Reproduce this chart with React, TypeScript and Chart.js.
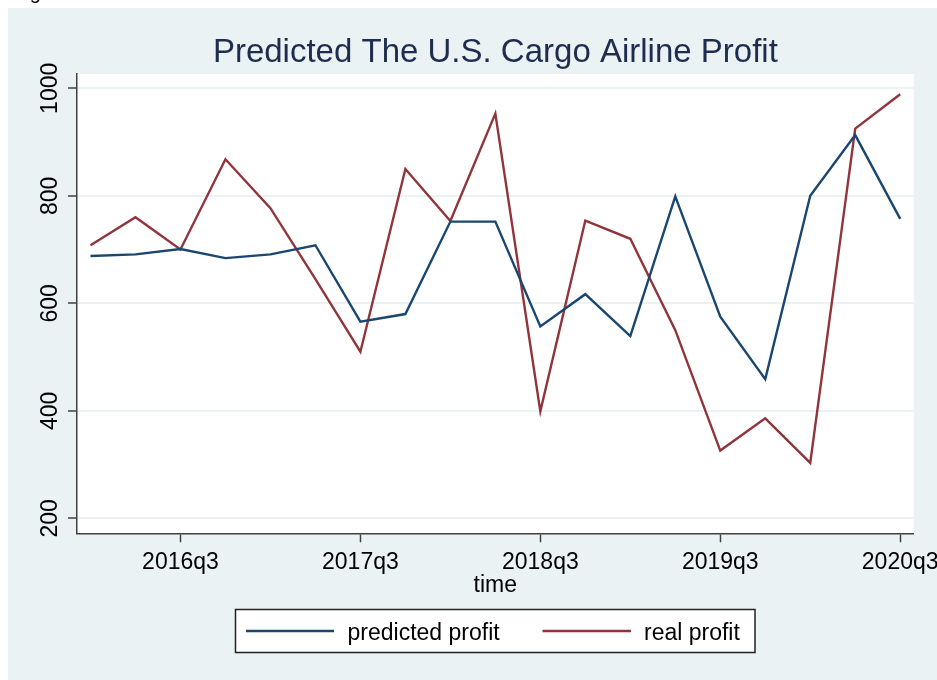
import React, { useEffect, useRef } from "react";
import { Chart, registerables } from "chart.js";

Chart.register(...registerables);

const quarters = [
  "2016q1", "2016q2", "2016q3", "2016q4",
  "2017q1", "2017q2", "2017q3", "2017q4",
  "2018q1", "2018q2", "2018q3", "2018q4",
  "2019q1", "2019q2", "2019q3", "2019q4",
  "2020q1", "2020q2", "2020q3",
];
const predictedProfit = [688, 691, 701, 684, 691, 708, 566, 580, 752, 752, 557, 617, 539, 799, 575, 459, 800, 913, 757];
const realProfit = [708, 760, 700, 868, 777, 645, 510, 850, 753, 953, 399, 754, 720, 550, 326, 386, 303, 925, 989];
const xTickLabels = ["2016q3", "2017q3", "2018q3", "2019q3", "2020q3"];
const yTickValues = [200, 400, 600, 800, 1000];

const TITLE = "Predicted The U.S. Cargo Airline Profit";
const X_TITLE = "time";
const SERIES_NAMES = ["predicted profit", "real profit"];

const BLUE = "#1a476f";
const RED = "#90353b";
const BG = "#eaf2f3";
const FONT = '"Liberation Sans", Arial, sans-serif';

export default function App() {
  const ref = useRef<HTMLCanvasElement | null>(null);

  useEffect(() => {
    const canvas = ref.current;
    if (!canvas) return;

    const decor = {
      id: "decor",
      beforeDraw(chart: any) {
        const { ctx, chartArea } = chart;
        ctx.save();
        ctx.fillStyle = "#ffffff";
        ctx.fillRect(0, 0, chart.width, chart.height);
        ctx.fillStyle = "#000000";
        ctx.font = `20px ${FONT}`;
        ctx.textBaseline = "alphabetic";
        ctx.textAlign = "left";
        ctx.fillText("Figure 3", 13, -1);
        ctx.fillStyle = BG;
        ctx.fillRect(8, 8, chart.width - 8, chart.height - 8);
        ctx.fillStyle = "#ffffff";
        ctx.fillRect(chartArea.left, chartArea.top, chartArea.right - chartArea.left, chartArea.bottom - chartArea.top);
        ctx.restore();
      },
      afterDraw(chart: any) {
        const { ctx, chartArea } = chart;
        const xs = chart.scales.x;
        const ys = chart.scales.y;
        const cx = (chartArea.left + chartArea.right) / 2;
        ctx.save();
        // title
        ctx.fillStyle = "#1e2d4f";
        ctx.font = `33px ${FONT}`;
        ctx.textAlign = "center";
        ctx.textBaseline = "alphabetic";
        ctx.fillText(TITLE, cx, 61.5);
        // y tick labels (rotated)
        ctx.fillStyle = "#000000";
        ctx.font = `23px ${FONT}`;
        yTickValues.forEach((v) => {
          const py = ys.getPixelForValue(v);
          ctx.save();
          ctx.translate(56.5, py);
          ctx.rotate(-Math.PI / 2);
          ctx.textAlign = "center";
          ctx.textBaseline = "alphabetic";
          ctx.fillText(String(v), 0, 0);
          ctx.restore();
        });
        // x tick labels
        ctx.textAlign = "center";
        ctx.textBaseline = "alphabetic";
        xTickLabels.forEach((lab) => {
          const px = xs.getPixelForValue(quarters.indexOf(lab));
          ctx.fillText(lab, px, 568.5);
        });
        // x title
        ctx.fillText(X_TITLE, cx, 591.5);
        // legend
        const lx = 235.5, ly = 609.5, lw = 519.5, lh = 43;
        ctx.fillStyle = "#ffffff";
        ctx.fillRect(lx, ly, lw, lh);
        ctx.strokeStyle = "#222222";
        ctx.lineWidth = 1.5;
        ctx.strokeRect(lx, ly, lw, lh);
        const items = [
          { name: SERIES_NAMES[0], color: BLUE, x0: 246, x1: 334, tx: 347.5 },
          { name: SERIES_NAMES[1], color: RED, x0: 542.5, x1: 631, tx: 644 },
        ];
        items.forEach((it) => {
          ctx.strokeStyle = it.color;
          ctx.lineWidth = 2.5;
          ctx.beginPath();
          ctx.moveTo(it.x0, 631);
          ctx.lineTo(it.x1, 631);
          ctx.stroke();
          ctx.fillStyle = "#000000";
          ctx.font = `23px ${FONT}`;
          ctx.textAlign = "left";
          ctx.textBaseline = "alphabetic";
          ctx.fillText(it.name, it.tx, 639.5);
        });
        ctx.restore();
      },
    };

    const chart = new Chart(canvas, {
      type: "line",
      data: {
        datasets: [
          {
            label: SERIES_NAMES[0],
            data: predictedProfit.map((v, i) => ({ x: i, y: v })),
            borderColor: BLUE,
            borderWidth: 2.4,
            pointRadius: 0,
            tension: 0,
            fill: false,
          },
          {
            label: SERIES_NAMES[1],
            data: realProfit.map((v, i) => ({ x: i, y: v })),
            borderColor: RED,
            borderWidth: 2.4,
            pointRadius: 0,
            tension: 0,
            fill: false,
          },
        ],
      },
      options: {
        responsive: false,
        animation: false,
        devicePixelRatio: 1,
        layout: { padding: { left: 0, top: 74, right: 23.3, bottom: 126.7 } },
        plugins: {
          legend: { display: false },
          title: { display: false },
          tooltip: { enabled: false },
        },
        scales: {
          x: {
            type: "linear",
            min: -0.3,
            max: 18.3,
            afterBuildTicks: (s: any) => {
              s.ticks = xTickLabels.map((l) => ({ value: quarters.indexOf(l) }));
            },
            afterFit: (s: any) => {
              s.height = 20;
            },
            ticks: { display: false },
            grid: {
              drawOnChartArea: false,
              drawTicks: true,
              tickLength: 9,
              tickColor: "#404040",
              tickWidth: 1.5,
            },
            border: { display: true, color: "#404040", width: 1.5 },
          },
          y: {
            type: "linear",
            min: 172.1,
            max: 1026.6,
            afterBuildTicks: (s: any) => {
              s.ticks = yTickValues.map((v) => ({ value: v }));
            },
            afterFit: (s: any) => {
              s.width = 77;
            },
            ticks: { display: false },
            grid: {
              drawOnChartArea: true,
              color: BG,
              lineWidth: 2,
              drawTicks: true,
              tickLength: 9,
              tickColor: "#404040",
              tickWidth: 1.5,
            },
            border: { display: true, color: "#404040", width: 1.5 },
          },
        },
      },
      plugins: [decor],
    });

    return () => chart.destroy();
  }, []);

  return (
    <div style={{ position: "fixed", left: 0, top: 0, width: 937, height: 680, overflow: "hidden" }}>
      <canvas ref={ref} width={937} height={680} style={{ display: "block", width: 937, height: 680 }} />
    </div>
  );
}
